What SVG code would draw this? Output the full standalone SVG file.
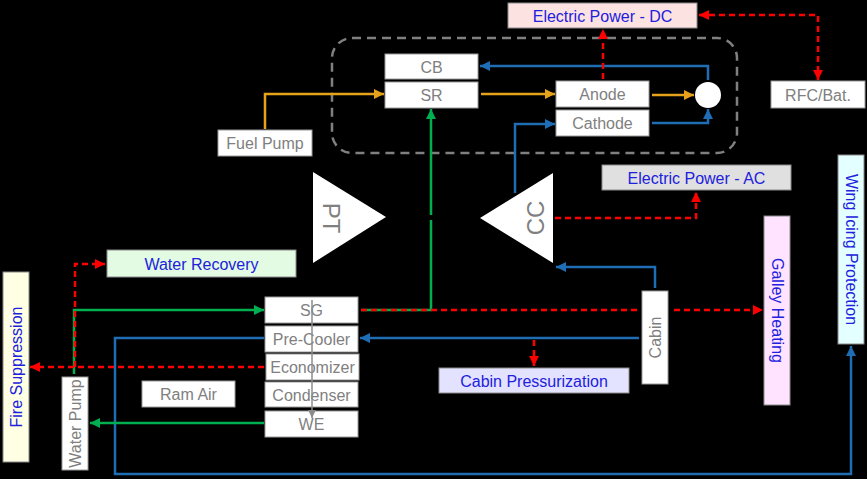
<svg xmlns="http://www.w3.org/2000/svg" width="867" height="479" viewBox="0 0 867 479">
<style>
.bx{fill:#FFFFFF;stroke:#9A9A9A;stroke-width:1}
.cb{stroke:#8A8A8A;stroke-width:1}
.t{font-family:"Liberation Sans",Arial,sans-serif;font-size:16px;fill:#808080;text-anchor:middle}
.tb{font-family:"Liberation Sans",Arial,sans-serif;font-size:16px;fill:#2121DD;text-anchor:middle}
.ln{fill:none;stroke-width:2.5}
.or{stroke:#E6A21A}
.bl{stroke:#1F6EB5}
.gr{stroke:#00B050}
.rd{stroke:#FF0000;stroke-dasharray:6,4}
.gy{stroke:#8C8C8C;stroke-width:1.5}
</style>
<defs>
<marker id="aO" viewBox="0 0 10 10" refX="10" refY="5" markerWidth="10" markerHeight="10" markerUnits="userSpaceOnUse" orient="auto-start-reverse"><path d="M0,0 L10,5 L0,10 z" fill="#E6A21A"/></marker>
<marker id="aB" viewBox="0 0 10 10" refX="10" refY="5" markerWidth="10" markerHeight="10" markerUnits="userSpaceOnUse" orient="auto-start-reverse"><path d="M0,0 L10,5 L0,10 z" fill="#1F6EB5"/></marker>
<marker id="aG" viewBox="0 0 10 10" refX="10" refY="5" markerWidth="10" markerHeight="10" markerUnits="userSpaceOnUse" orient="auto-start-reverse"><path d="M0,0 L10,5 L0,10 z" fill="#00B050"/></marker>
<marker id="aR" viewBox="0 0 10 10" refX="10" refY="5" markerWidth="10" markerHeight="10" markerUnits="userSpaceOnUse" orient="auto-start-reverse"><path d="M0,0 L10,5 L0,10 z" fill="#FF0000"/></marker>
<marker id="aY" viewBox="0 0 10 10" refX="10" refY="5" markerWidth="8" markerHeight="8" markerUnits="userSpaceOnUse" orient="auto-start-reverse"><path d="M0,0 L10,5 L0,10 z" fill="#8C8C8C"/></marker>
</defs>
<rect x="0" y="0" width="867" height="479" fill="#000000"/>
<g id="fuelcell-frame"><rect x="332" y="38" width="405" height="115" rx="20" fill="none" stroke="#808080" stroke-width="2.5" stroke-dasharray="9,6"/></g>
<g id="nodes">
<g id="dc"><rect class="cb" x="508" y="3" width="189" height="25" fill="#FDE2E2"/><text class="tb" x="602.5" y="21.5">Electric Power - DC</text></g>
<g id="cb"><rect class="bx" x="385" y="54" width="93" height="25"/><text class="t" x="431.5" y="72.5">CB</text></g>
<g id="sr"><rect class="bx" x="385" y="82" width="93" height="26"/><text class="t" x="431.5" y="101">SR</text></g>
<g id="anode"><rect class="bx" x="556" y="81" width="93" height="26"/><text class="t" x="602.5" y="100">Anode</text></g>
<g id="cathode"><rect class="bx" x="556" y="110" width="93" height="26"/><text class="t" x="602.5" y="129">Cathode</text></g>
<g id="mix"><circle cx="708" cy="95" r="13" fill="#FFFFFF"/></g>
<g id="rfc"><rect class="bx" x="771" y="81" width="94" height="27"/><text class="t" x="818" y="100.5">RFC/Bat.</text></g>
<g id="fuelpump"><rect class="bx" x="218" y="130" width="94" height="26"/><text class="t" x="265" y="149">Fuel Pump</text></g>
<g id="pt"><polygon points="313,172 313,263 386,217" fill="#FFFFFF"/><text class="t" style="font-size:24px" x="331" y="218" dominant-baseline="central" transform="rotate(90 331 218)">PT</text></g>
<g id="cc"><polygon points="553,173 553,263 480,218" fill="#FFFFFF"/><text class="t" style="font-size:24px" x="535" y="218" dominant-baseline="central" transform="rotate(-90 535 218)">CC</text></g>
<g id="ac"><rect class="cb" x="602" y="165" width="189" height="25" fill="#E0E0E0"/><text class="tb" x="696.5" y="183.5">Electric Power - AC</text></g>
<g id="waterrecovery"><rect class="cb" x="107" y="250" width="189" height="27" fill="#E2FBE2"/><text class="tb" x="201.5" y="269.5">Water Recovery</text></g>
<g id="sg"><rect class="bx" x="265" y="297" width="93" height="26"/><text class="t" x="311.5" y="316">SG</text></g>
<g id="precooler"><rect class="bx" x="265" y="326" width="93" height="26"/><text class="t" x="311.5" y="345">Pre-Cooler</text></g>
<g id="economizer"><rect class="bx" x="266" y="354" width="93" height="26"/><text class="t" x="312.5" y="373">Economizer</text></g>
<g id="condenser"><rect class="bx" x="265" y="382" width="93" height="25"/><text class="t" x="311.5" y="400.5">Condenser</text></g>
<g id="we"><rect class="bx" x="265" y="411" width="93" height="26"/><text class="t" x="311.5" y="430">WE</text></g>
<g id="ramair"><rect class="bx" x="142" y="381" width="93" height="26"/><text class="t" x="188.5" y="400">Ram Air</text></g>
<g id="waterpump"><rect class="bx" x="62" y="377" width="26" height="93"/><text class="t" x="75" y="423.5" dominant-baseline="central" transform="rotate(-90 75 423.5)">Water Pump</text></g>
<g id="firesuppression"><rect class="cb" x="3" y="272" width="26" height="190" fill="#FFFFE3"/><text class="tb" x="16" y="367" dominant-baseline="central" transform="rotate(-90 16 367)">Fire Suppression</text></g>
<g id="cabin"><rect class="bx" x="642" y="291" width="26" height="93"/><text class="t" x="655" y="337.5" dominant-baseline="central" transform="rotate(-90 655 337.5)">Cabin</text></g>
<g id="cabinpressurization"><rect class="cb" x="439" y="368" width="190" height="25" fill="#E3E3FF"/><text class="tb" x="534" y="386.5">Cabin Pressurization</text></g>
<g id="galleyheating"><rect class="cb" x="764" y="216" width="26" height="189" fill="#FFE3FF"/><text class="tb" x="777" y="310.5" dominant-baseline="central" transform="rotate(90 777 310.5)">Galley Heating</text></g>
<g id="wingicing"><rect class="cb" x="838" y="155" width="26" height="189" fill="#E3FFFF"/><text class="tb" x="851" y="249.5" dominant-baseline="central" transform="rotate(90 851 249.5)">Wing Icing Protection</text></g>
</g>
<g id="connectors">
<path class="ln or" d="M265,129 V94 H384" marker-end="url(#aO)"/>
<path class="ln or" d="M481,94 H555" marker-end="url(#aO)"/>
<path class="ln or" d="M652,95 H694" marker-end="url(#aO)"/>
<path class="ln bl" d="M708,80 V66 H480" marker-end="url(#aB)"/>
<path class="ln bl" d="M652,123 H708 V109" marker-end="url(#aB)"/>
<path class="ln bl" d="M515,193 V124 H555" marker-end="url(#aB)"/>
<path class="ln bl" d="M655,288 V267 H556" marker-end="url(#aB)"/>
<path class="ln bl" d="M639,338 H360" marker-end="url(#aB)"/>
<path class="ln bl" d="M264,338 H115 V474 H851 V346" marker-end="url(#aB)"/>
<path class="ln gr" d="M361,310 H431 V220"/>
<path class="ln gr" d="M431,215 V109" marker-end="url(#aG)"/>
<path class="ln gr" d="M74,374 V310 H264" marker-end="url(#aG)"/>
<path class="ln gr" d="M264,423 H90" marker-end="url(#aG)"/>
<path class="ln rd" d="M603,79 V29" marker-end="url(#aR)"/>
<path class="ln rd" d="M699,15 H818 V80" marker-start="url(#aR)" marker-end="url(#aR)"/>
<path class="ln rd" d="M555,218 H696 V192" marker-end="url(#aR)"/>
<path class="ln rd" d="M361,310 H639"/>
<path class="ln rd" d="M674,310 H763" marker-end="url(#aR)"/>
<path class="ln rd" d="M534,340 V366" marker-end="url(#aR)"/>
<path class="ln rd" d="M264,367 H30" marker-end="url(#aR)"/>
<path class="ln rd" d="M75,367 V264 H105" marker-end="url(#aR)"/>
<path class="ln gy" d="M312,300 V418" marker-end="url(#aY)"/>
</g>
</svg>
